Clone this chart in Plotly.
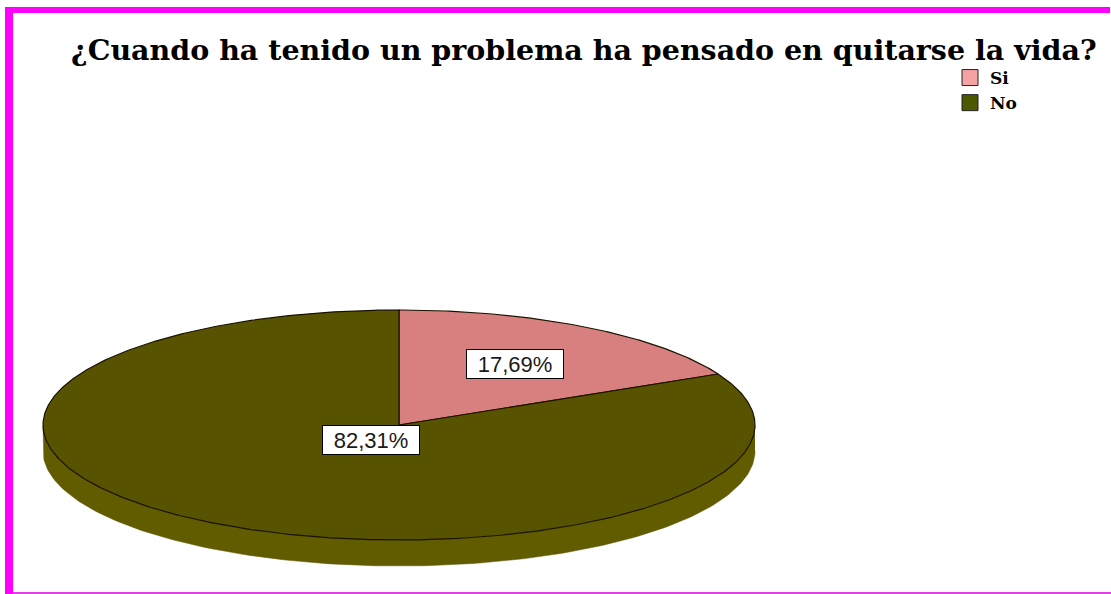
import numpy as np
import plotly.graph_objects as go

# Survey answers and their shares (%)
labels = ["Si", "No"]
percent = [17.69, 82.31]
value_text = ["17,69%", "82,31%"]
title_text = "¿Cuando ha tenido un problema ha pensado en quitarse la vida?"

slice_colors = ["#D88080", "#585300"]
legend_colors = ["#F4A2A2", "#4E5800"]
side_color = "#625C00"
label_radius = [0.62, 0.15]

W, H = 1111, 594
# elliptical "3D" pie geometry in pixel units
cx, cy, rx, ry, depth = 399, 425, 356, 115, 26


def ellipse_xy(theta_deg, dy=0.0):
    t = np.radians(theta_deg)
    return cx + rx * np.sin(t), cy - ry * np.cos(t) + dy


fig = go.Figure()

# visible rim of the disc (front half)
th = np.linspace(90, 270, 181)
tx, ty = ellipse_xy(th)
bx, by = ellipse_xy(th[::-1], depth)
fig.add_trace(go.Scatter(
    x=np.concatenate([tx, bx]), y=np.concatenate([ty, by]),
    fill="toself", fillcolor=side_color, mode="lines",
    line=dict(color="#565000", width=0.5), hoverinfo="skip", showlegend=False))

# top-face slices, clockwise from 12 o'clock
start = 0.0
for lab, pct, col, txt, rr in zip(labels, percent, slice_colors, value_text, label_radius):
    sweep = pct / 100 * 360
    th = np.linspace(start, start + sweep, max(int(sweep * 2), 4))
    ax, ay = ellipse_xy(th)
    fig.add_trace(go.Scatter(
        x=np.concatenate([[cx], ax, [cx]]), y=np.concatenate([[cy], ay, [cy]]),
        fill="toself", fillcolor=col, mode="lines",
        line=dict(color="#1A1200", width=1.2), name=lab,
        hoverinfo="skip", showlegend=False))
    mid = np.radians(start + sweep / 2)
    fig.add_annotation(
        x=cx + rr * rx * np.sin(mid), y=cy - rr * ry * np.cos(mid),
        xref="x", yref="y", text=txt, showarrow=False,
        bgcolor="white", bordercolor="black", borderwidth=1,
        width=94, height=26,
        font=dict(family="Liberation Sans, Arial", size=22, color="#1a1a1a"))
    start += sweep

# legend entries
for lab, col in zip(labels, legend_colors):
    fig.add_trace(go.Scatter(
        x=[None], y=[None], mode="markers", name=lab,
        marker=dict(symbol="square", size=16, color=col,
                    line=dict(color="#222222", width=1))))

# title
fig.add_annotation(
    x=584, y=50, xref="x", yref="y", text=title_text, showarrow=False,
    font=dict(family="DejaVu Serif", size=28.5, color="black", weight="bold"))

# magenta frame
frame = "#FF00FF"
fig.add_shape(type="rect", xref="x", yref="y", x0=5, x1=1110, y0=7, y1=13,
              fillcolor=frame, line_width=0, layer="above")
fig.add_shape(type="rect", xref="x", yref="y", x0=5, x1=13, y0=7, y1=594,
              fillcolor=frame, line_width=0, layer="above")
fig.add_shape(type="rect", xref="x", yref="y", x0=13, x1=1111, y0=592, y1=594,
              fillcolor="#E040E8", line_width=0, layer="above")

fig.update_layout(
    width=W, height=H,
    margin=dict(l=0, r=0, t=0, b=0),
    paper_bgcolor="white", plot_bgcolor="white",
    xaxis=dict(range=[0, W], visible=False, fixedrange=True),
    yaxis=dict(range=[H, 0], visible=False, fixedrange=True),
    showlegend=True,
    legend=dict(x=950 / W, y=1 - 60 / H, xanchor="left", yanchor="top",
                bgcolor="rgba(0,0,0,0)", itemwidth=30, tracegroupgap=0,
                font=dict(family="DejaVu Serif", size=17, color="black",
                          weight="bold")),
)

fig.write_html("out.html")
